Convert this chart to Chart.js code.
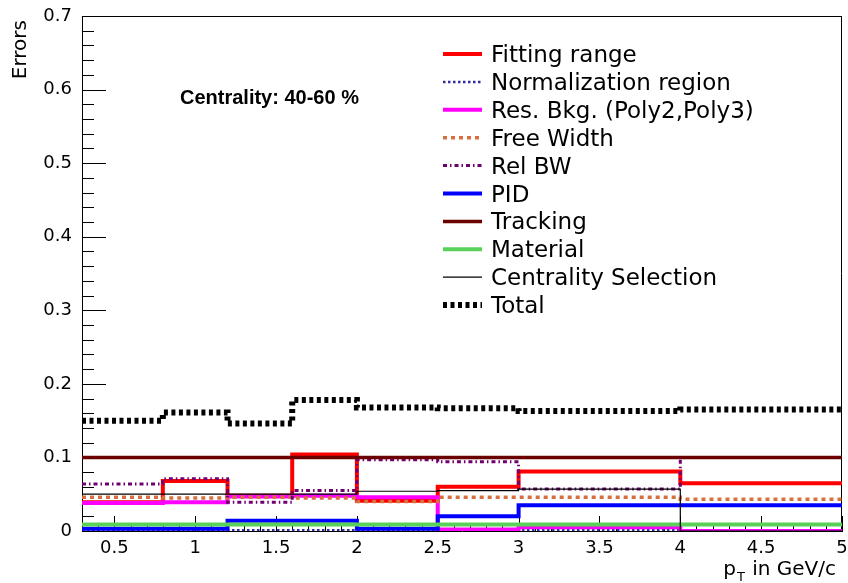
<!DOCTYPE html>
<html>
<head>
<meta charset="utf-8">
<script src="https://cdn.jsdelivr.net/npm/chart.js@4/dist/chart.umd.min.js"></script>
<style>
  html, body { margin: 0; padding: 0; background: #fff; }
  #wrap { width: 848px; height: 583px; position: relative; }
</style>
</head>
<body>
<div id="wrap"><canvas id="errChart" width="848" height="583"></canvas></div>
<script>
// bin edges in pT (GeV/c)
const binEdges = [0.3, 0.8, 1.2, 1.6, 2.0, 2.5, 3.0, 4.0, 5.0];

// one value per bin
const fittingRange  = [0.039, 0.068, 0.048, 0.104, 0.041, 0.060, 0.081, 0.065];
const normRegion    = [0.001, 0.001, 0.001, 0.001, 0.001, 0.001, 0.001, 0.001];
const resBkg        = [0.038, 0.039, 0.047, 0.048, 0.046, 0.002, 0.005, 0.000];
const freeWidth     = [0.046, 0.045, 0.046, 0.045, 0.040, 0.046, 0.046, 0.043];
const relBW         = [0.064, 0.071, 0.039, 0.055, 0.097, 0.094, 0.057, 0.100];
const pid           = [0.003, 0.003, 0.014, 0.014, 0.003, 0.020, 0.035, 0.035];
const tracking      = [0.100, 0.100, 0.100, 0.100, 0.100, 0.100, 0.100, 0.100];
const material      = [0.009, 0.009, 0.009, 0.009, 0.009, 0.009, 0.009, 0.009];
const centSelection = [0.050, 0.050, 0.050, 0.050, 0.054, 0.055, 0.057, 0.000];
const total         = [0.150, 0.161, 0.146, 0.178, 0.168, 0.167, 0.163, 0.165];

const xTickValues = [0.5, 1, 1.5, 2, 2.5, 3, 3.5, 4, 4.5, 5];
const yTickValues = [0, 0.1, 0.2, 0.3, 0.4, 0.5, 0.6, 0.7];

const FONT = 'DejaVu Sans';

// series styles, legend order
const series = [
    { label: 'Fitting range', data: fittingRange, color: '#ff0000', width: 4, dash: [] },
    { label: 'Normalization region', data: normRegion, color: '#2e2ea0', width: 2.5, dash: [2.5, 2.5] },
    { label: 'Res. Bkg. (Poly2,Poly3)', data: resBkg, color: '#ff00ff', width: 4, dash: [] },
    { label: 'Free Width', data: freeWidth, color: '#d8703e', width: 3.5, dash: [4, 4] },
    { label: 'Rel BW', data: relBW, color: '#700070', width: 3, dash: [4, 3, 1.5, 3] },
    { label: 'PID', data: pid, color: '#0000ff', width: 4, dash: [] },
    { label: 'Tracking', data: tracking, color: '#6b0000', width: 3.5, dash: [] },
    { label: 'Material', data: material, color: '#5ad25a', width: 4, dash: [] },
    { label: 'Centrality Selection', data: centSelection, color: '#000000', width: 1.2, dash: [] },
    { label: 'Total', data: total, color: '#000000', width: 6, dash: [4, 3.5] }
];

// histogram -> step points (last value repeated at the upper edge)
function toSteps(vals) {
    const pts = vals.map((v, i) => ({ x: binEdges[i], y: v }));
    pts.push({ x: binEdges[binEdges.length - 1], y: vals[vals.length - 1] });
    return pts;
}

// ROOT-like frame, inward ticks, legend and labels
const rootStyle = {
    id: 'rootStyle',
    beforeDatasetsDraw(chart) {
        const ctx = chart.ctx;
        const a = chart.chartArea;
        const xs = chart.scales.x, ys = chart.scales.y;
        ctx.save();
        ctx.strokeStyle = '#000';
        ctx.lineWidth = 1;
        ctx.beginPath();
        // y ticks every 0.02, major every 0.1
        for (let k = 0; k <= 35; k++) {
            const y = Math.round(ys.getPixelForValue(k * 0.02)) + 0.5;
            const len = (k % 5 === 0) ? 24 : 12;
            ctx.moveTo(a.left, y);
            ctx.lineTo(a.left + len, y);
        }
        // x ticks every 0.1, major every 0.5
        for (let k = 3; k <= 50; k++) {
            const x = Math.round(xs.getPixelForValue(k * 0.1)) + 0.5;
            const len = (k % 5 === 0) ? 15 : 7.5;
            ctx.moveTo(x, a.bottom);
            ctx.lineTo(x, a.bottom - len);
        }
        // top and right frame
        ctx.moveTo(a.left, a.top + 0.5);
        ctx.lineTo(a.right, a.top + 0.5);
        ctx.moveTo(a.right - 0.5, a.top);
        ctx.lineTo(a.right - 0.5, a.bottom);
        ctx.stroke();
        ctx.restore();
    },
    afterDraw(chart) {
        const ctx = chart.ctx;
        ctx.save();
        ctx.fillStyle = '#000';

        // legend
        ctx.font = '23px "' + FONT + '"';
        ctx.textAlign = 'left';
        ctx.textBaseline = 'alphabetic';
        series.forEach((s, i) => {
            const y = 54 + i * 27.9;
            ctx.save();
            ctx.strokeStyle = s.color;
            ctx.lineWidth = s.width;
            ctx.setLineDash(s.dash);
            ctx.beginPath();
            ctx.moveTo(443, y);
            ctx.lineTo(482, y);
            ctx.stroke();
            ctx.restore();
            ctx.fillText(s.label, 491, y + 8);
        });

        // centrality tag
        ctx.font = 'bold 20px "Liberation Sans"';
        ctx.fillText('Centrality: 40-60 %', 180, 104);

        // y title
        ctx.save();
        ctx.font = '20px "' + FONT + '"';
        ctx.translate(26, 20);
        ctx.rotate(-Math.PI / 2);
        ctx.textAlign = 'right';
        ctx.fillText('Errors', 0, 0);
        ctx.restore();

        // x title: p_T in GeV/c, right aligned
        const big = '20px "' + FONT + '"';
        const small = '13px "' + FONT + '"';
        ctx.font = big;
        const wp = ctx.measureText('p').width;
        const wr = ctx.measureText(' in GeV/c').width;
        ctx.font = small;
        const wt = ctx.measureText('T').width;
        let x = 836 - wr - wt - wp - 2;
        const base = 575;
        ctx.font = big;
        ctx.fillText('p', x, base);
        x += wp + 1;
        ctx.font = small;
        ctx.fillText('T', x, base + 6);
        x += wt + 1;
        ctx.font = big;
        ctx.fillText(' in GeV/c', x, base);
        ctx.restore();
    }
};

// plain number labels: 0.5, 1, 1.5 ...
function tickLabel(value) {
    return String(parseFloat(value.toFixed(2)));
}

function initChart() {
    const ctx = document.getElementById('errChart').getContext('2d');
    const n = series.length;
    new Chart(ctx, {
        type: 'line',
        data: {
            datasets: series.map((s, i) => ({
                label: s.label,
                data: toSteps(s.data),
                borderColor: s.color,
                borderWidth: s.width,
                borderDash: s.dash,
                borderCapStyle: 'butt',
                stepped: true,
                pointRadius: 0,
                fill: false,
                order: n - i
            }))
        },
        options: {
            responsive: false,
            animation: false,
            events: [],
            layout: { padding: { top: 16, right: 6, left: 0, bottom: 0 } },
            plugins: {
                legend: { display: false },
                tooltip: { enabled: false }
            },
            scales: {
                x: {
                    type: 'linear',
                    min: 0.3,
                    max: 5,
                    afterBuildTicks: s => { s.ticks = xTickValues.map(v => ({ value: v })); },
                    afterFit: s => { s.height = 52; s.paddingLeft = 0; s.paddingRight = 0; },
                    grid: { display: false, drawTicks: false },
                    border: { display: true, color: '#000', width: 1 },
                    ticks: {
                        color: '#000',
                        font: { family: FONT, size: 18 },
                        padding: 7,
                        maxRotation: 0,
                        autoSkip: false,
                        callback: tickLabel
                    }
                },
                y: {
                    type: 'linear',
                    min: 0,
                    max: 0.7,
                    afterBuildTicks: s => { s.ticks = yTickValues.map(v => ({ value: v })); },
                    afterFit: s => { s.width = 82; s.paddingTop = 0; s.paddingBottom = 0; },
                    grid: { display: false, drawTicks: false },
                    border: { display: true, color: '#000', width: 1 },
                    ticks: {
                        color: '#000',
                        font: { family: FONT, size: 18 },
                        padding: 10,
                        autoSkip: false,
                        callback: tickLabel
                    }
                }
            }
        },
        plugins: [rootStyle]
    });
}

initChart();
</script>
</body>
</html>
